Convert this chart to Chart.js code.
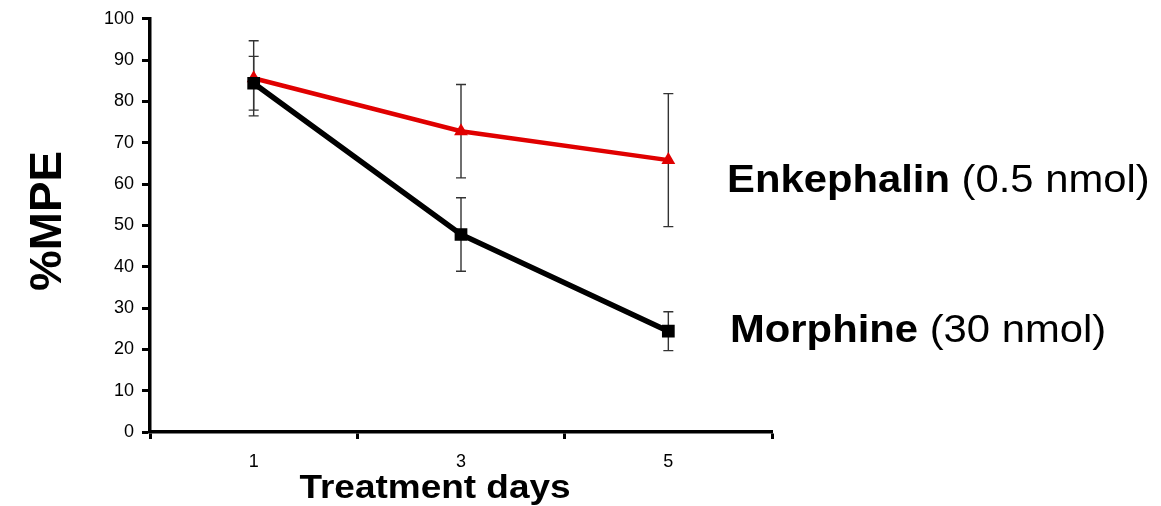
<!DOCTYPE html>
<html>
<head>
<meta charset="utf-8">
<script src="https://cdn.jsdelivr.net/npm/chart.js@4/dist/chart.umd.min.js"></script>
<style>
html,body{margin:0;padding:0;background:#fff;}
#wrap{width:1161px;height:506px;position:relative;}
</style>
</head>
<body>
<div id="wrap"><canvas id="c" width="1161" height="506"></canvas></div>
<script>
const days = ['1', '3', '5'];
const morphineMean = [84.4, 47.8, 24.4];
const morphineErr = [6.5, 8.9, 4.7];
const enkephalinMean = [85.6, 72.8, 65.8];
const enkephalinErr = [9.1, 11.3, 16.1];
const yMin = 0, yMax = 100, yStep = 10;
const xTitle = 'Treatment days';
const yTitle = '%MPE';
const morphineLabel = ['Morphine', ' (30 nmol)'];
const enkephalinLabel = ['Enkephalin', ' (0.5 nmol)'];

const FONT = '"Liberation Sans", Arial, Helvetica, sans-serif';

function drawParts(ctx, parts, x, y, size, sx, align) {
  ctx.save();
  ctx.textBaseline = 'alphabetic';
  ctx.fillStyle = '#000';
  let total = 0;
  parts.forEach(p => { ctx.font = (p.bold ? 'bold ' : '') + size + 'px ' + FONT; total += ctx.measureText(p.text).width; });
  ctx.translate(x, y);
  ctx.scale(sx, 1);
  let cx = align === 'center' ? -total / 2 : 0;
  parts.forEach(p => {
    ctx.font = (p.bold ? 'bold ' : '') + size + 'px ' + FONT;
    ctx.textAlign = 'left';
    ctx.fillText(p.text, cx, 0);
    cx += ctx.measureText(p.text).width;
  });
  ctx.restore();
}

const errorBars = {
  id: 'errorBars',
  beforeDatasetsDraw(chart) {
    const ctx = chart.ctx, xs = chart.scales.x, ys = chart.scales.y;
    const sets = [[morphineMean, morphineErr], [enkephalinMean, enkephalinErr]];
    ctx.save();
    ctx.strokeStyle = '#333';
    ctx.lineWidth = 1.4;
    sets.forEach(([m, e]) => {
      m.forEach((v, i) => {
        const x = xs.getPixelForValue(i);
        const y1 = ys.getPixelForValue(v + e[i]);
        const y2 = ys.getPixelForValue(v - e[i]);
        ctx.beginPath();
        ctx.moveTo(x, y1); ctx.lineTo(x, y2);
        ctx.moveTo(x - 5, y1); ctx.lineTo(x + 5, y1);
        ctx.moveTo(x - 5, y2); ctx.lineTo(x + 5, y2);
        ctx.stroke();
      });
    });
    ctx.restore();
  }
};

const texts = {
  id: 'texts',
  afterDraw(chart) {
    const ctx = chart.ctx;
    drawParts(ctx, [{text: enkephalinLabel[0], bold: true}, {text: enkephalinLabel[1]}], 727, 192, 38, 1.1, 'left');
    drawParts(ctx, [{text: morphineLabel[0], bold: true}, {text: morphineLabel[1]}], 730, 342, 38, 1.1, 'left');
    drawParts(ctx, [{text: xTitle, bold: true}], 435, 498, 33, 1.12, 'center');
    ctx.save();
    ctx.translate(61, 221);
    ctx.rotate(-Math.PI / 2);
    drawParts(ctx, [{text: yTitle, bold: true}], 0, 0, 44, 1.04, 'center');
    ctx.restore();
  }
};

new Chart(document.getElementById('c'), {
  type: 'line',
  data: {
    labels: days,
    datasets: [
      {
        label: 'Morphine (30 nmol)',
        data: morphineMean,
        borderColor: '#000',
        backgroundColor: '#000',
        borderWidth: 5.5,
        pointStyle: 'rect',
        pointRadius: 9,
        pointHoverRadius: 9,
        pointBorderWidth: 0,
        tension: 0
      },
      {
        label: 'Enkephalin (0.5 nmol)',
        data: enkephalinMean,
        borderColor: '#e00000',
        backgroundColor: '#e00000',
        borderWidth: 4.5,
        pointStyle: 'triangle',
        pointRadius: 8,
        pointHoverRadius: 8,
        pointBorderWidth: 0,
        tension: 0
      }
    ]
  },
  options: {
    responsive: false,
    animation: false,
    events: [],
    layout: { padding: { left: 0, right: 389, top: 16, bottom: 0 } },
    plugins: { legend: { display: false }, tooltip: { enabled: false } },
    scales: {
      x: {
        type: 'category',
        offset: true,
        grid: { offset: true, drawOnChartArea: false, drawTicks: true, tickLength: 7, tickWidth: 3, tickColor: '#000' },
        border: { display: true, color: '#000', width: 3.5 },
        ticks: { color: '#000', font: { family: FONT, size: 18 }, padding: 12 },
        afterFit(s) { s.height = 74; }
      },
      y: {
        min: yMin, max: yMax,
        grid: { drawOnChartArea: false, drawTicks: true, tickLength: 8, tickWidth: 3, tickColor: '#000' },
        border: { display: true, color: '#000', width: 3.5 },
        ticks: { stepSize: yStep, color: '#000', font: { family: FONT, size: 18 }, padding: 8 },
        afterFit(s) { s.width = 150; }
      }
    }
  },
  plugins: [errorBars, texts]
});
</script>
</body>
</html>
